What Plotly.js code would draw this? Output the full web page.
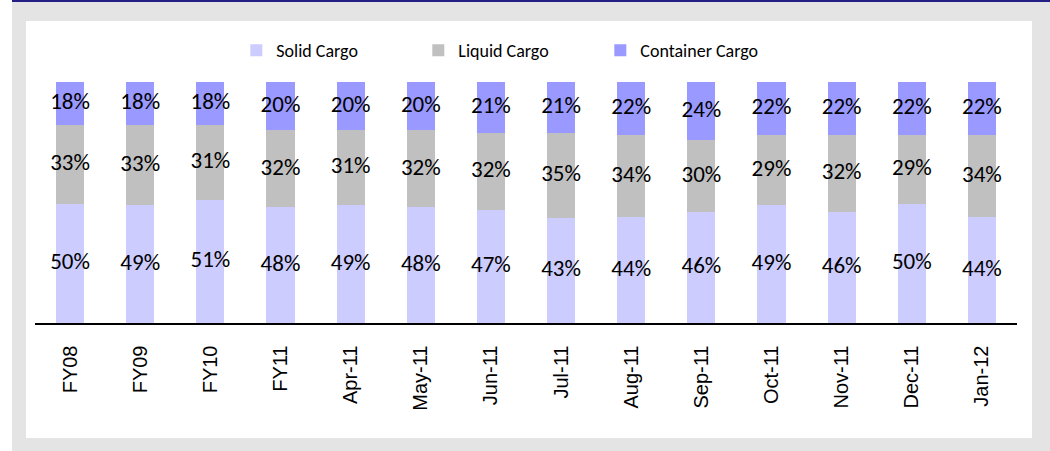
<!DOCTYPE html>
<html>
<head>
<meta charset="utf-8">
<script src="https://cdn.plot.ly/plotly-3.0.1.min.js"></script>
<style>
  html, body { margin: 0; padding: 0; background: #ffffff; width: 1050px; height: 451px; overflow: hidden; }
  #topline { position: absolute; left: 12px; top: 0px; width: 1038px; height: 2px; background: #231f86; }
  #frame { position: absolute; left: 12px; top: 2px; width: 1038px; height: 449px; background: #e4e4e4; }
  #chart { position: absolute; left: 26px; top: 21px; width: 1006px; height: 417px; background: #ffffff; }
</style>
</head>
<body>
<div id="topline"></div>
<div id="frame"></div>
<div id="chart"></div>
<script>
const categories = ["FY08","FY09","FY10","FY11","Apr-11","May-11","Jun-11","Jul-11","Aug-11","Sep-11","Oct-11","Nov-11","Dec-11","Jan-12"];
const solidCargo     = [50,49,51,48,49,48,47,43,44,46,49,46,50,44];
const liquidCargo    = [33,33,31,32,31,32,32,35,34,30,29,32,29,34];
const containerCargo = [18,18,18,20,20,20,21,21,22,24,22,22,22,22];

const seriesList = [
  {name: "Solid Cargo", vals: solidCargo, color: "#ccccff"},
  {name: "Liquid Cargo", vals: liquidCargo, color: "#c0c0c0"},
  {name: "Container Cargo", vals: containerCargo, color: "#9999ff"}
];

const labelFont = {family: "Carlito, Calibri, Lato, sans-serif", size: 23, color: "#000000"};

const data = [];
seriesList.forEach(s => {
  data.push({
    type: "bar",
    name: s.name,
    x: categories,
    y: s.vals,
    marker: {color: s.color, line: {width: 0}},
    textposition: "none",
    hoverinfo: "x+name+y"
  });
});

// labels centred in each (normalised) segment
const totals = categories.map((_, i) => seriesList.reduce((a, s) => a + s.vals[i], 0));
seriesList.forEach((s, k) => {
  const ys = categories.map((_, i) => {
    let below = 0;
    for (let j = 0; j < k; j++) below += seriesList[j].vals[i];
    return (below + s.vals[i] / 2) / totals[i] * 100;
  });
  data.push({
    type: "scatter",
    mode: "text",
    x: categories,
    y: ys,
    text: s.vals.map(v => v + "%"),
    textposition: "middle center",
    textfont: labelFont,
    showlegend: false,
    hoverinfo: "skip",
    cliponaxis: false
  });
});

const layout = {
  width: 1006,
  height: 417,
  margin: {l: 9, r: 15, t: 61, b: 115, pad: 0},
  paper_bgcolor: "#ffffff",
  plot_bgcolor: "#ffffff",
  barmode: "stack",
  barnorm: "percent",
  bargap: 0.6,
  showlegend: true,
  legend: {
    orientation: "h",
    x: 0.205, xanchor: "left",
    y: 1.13, yanchor: "middle",
    traceorder: "normal",
    entrywidth: 137,
    entrywidthmode: "pixels",
    font: {family: "Carlito, Calibri, Lato, sans-serif", size: 18, color: "#000000"},
    bgcolor: "rgba(0,0,0,0)"
  },
  xaxis: {
    type: "category",
    range: [-0.5, categories.length - 0.5],
    tickangle: -90,
    showline: true,
    linecolor: "#000000",
    linewidth: 1.5,
    ticks: "",
    ticklabelstandoff: 13,
    showgrid: false,
    zeroline: false,
    tickfont: {family: "Liberation Sans, Arial, sans-serif", size: 20, color: "#000000"}
  },
  yaxis: {
    range: [0, 100],
    visible: false,
    showgrid: false,
    zeroline: false,
    fixedrange: true
  }
};

Plotly.newPlot("chart", data, layout, {displayModeBar: false, staticPlot: true});
</script>
</body>
</html>
